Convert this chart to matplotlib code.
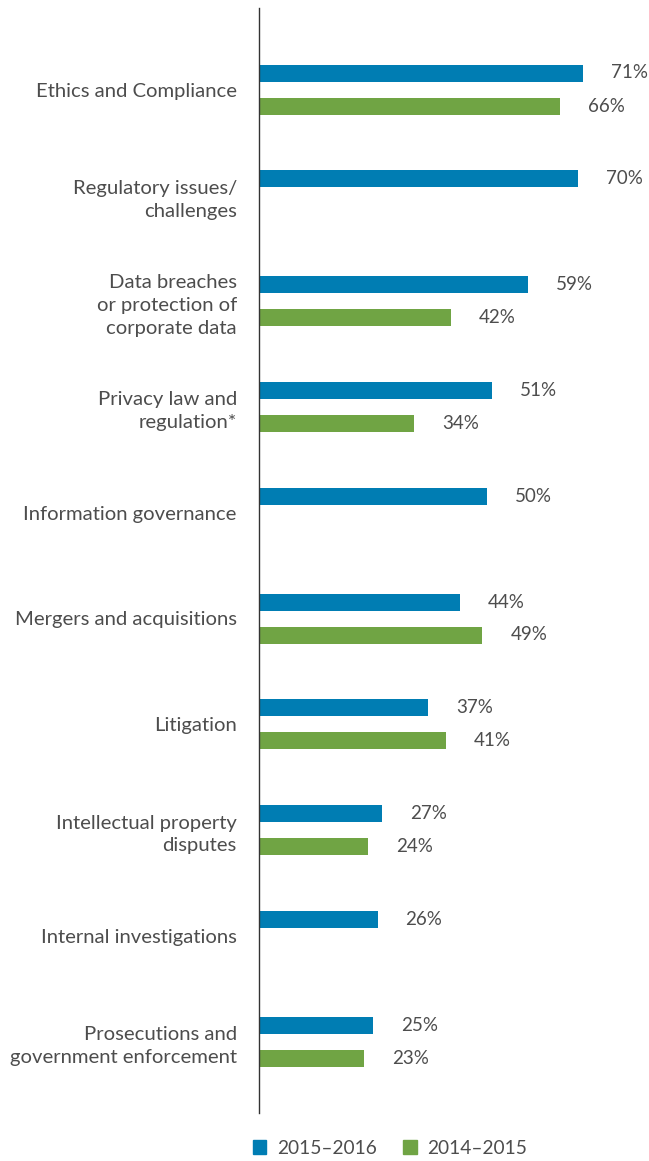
import numpy as np
import matplotlib
matplotlib.use("Agg")
import matplotlib.pyplot as plt
from matplotlib.patches import Patch

categories = ["Ethics and Compliance", "Regulatory issues/\nchallenges",
              "Data breaches\nor protection of\ncorporate data",
              "Privacy law and\nregulation*", "Information governance",
              "Mergers and acquisitions", "Litigation",
              "Intellectual property\ndisputes", "Internal investigations",
              "Prosecutions and\ngovernment enforcement"]
values_2015_2016 = [71, 70, 59, 51, 50, 44, 37, 27, 26, 25]
values_2014_2015 = [66, np.nan, 42, 34, np.nan, 49, 41, 24, np.nan, 23]
series_labels = ["2015\u20132016", "2014\u20132015"]

BLUE = "#007DB3"
GREEN = "#70A444"
TXT = "#4D4D4D"
plt.rcParams['font.family'] = ['Lato', 'DejaVu Sans']

W, H = 649, 1161
fig = plt.figure(figsize=(W/100, H/100), dpi=100)
ax_left = 259 / W
ax_top = 8 / H
ax_bot = 1113 / H
ax = fig.add_axes([ax_left, 1 - ax_bot, 1 - ax_left, ax_bot - ax_top])

px_per_unit = 4.56
xmax = (W - 259) / px_per_unit
spacing = 105.8
ytop = (8 - 89.5) / spacing
ybot = (1113 - 89.5) / spacing
ax.set_xlim(0, xmax)
ax.set_ylim(ybot, ytop)

y = np.arange(len(categories))
off = 16.5 / spacing
bh = 17 / spacing
ax.barh(y - off, values_2015_2016, height=bh, color=BLUE)
ax.barh(y + off, values_2014_2015, height=bh, color=GREEN)

lab_off = 28 / px_per_unit
for yi, v in zip(y, values_2015_2016):
    if not np.isnan(v):
        ax.text(v + lab_off, yi - off, f"{v:.0f}%", va="center", ha="left",
                fontsize=13.5, color=TXT)
for yi, v in zip(y, values_2014_2015):
    if not np.isnan(v):
        ax.text(v + lab_off, yi + off, f"{v:.0f}%", va="center", ha="left",
                fontsize=13.5, color=TXT)

ax.set_yticks(y)
ax.set_yticklabels(categories, fontsize=14.6, color=TXT, linespacing=1.42,
                   ha="right", multialignment="right")
ax.tick_params(axis="y", length=0, pad=16)
ax.set_xticks([])
for s in ["top", "right", "bottom"]:
    ax.spines[s].set_visible(False)
ax.spines["left"].set_color("#333333")
ax.spines["left"].set_linewidth(1.0)

handles = [Patch(color=BLUE), Patch(color=GREEN)]
fig.legend(handles, series_labels, loc="center", bbox_to_anchor=(390 / W, 1 - 1148 / H),
           ncol=2, frameon=False, fontsize=13.8, labelcolor=TXT,
           handlelength=0.7, handleheight=0.7, handletextpad=0.55, columnspacing=1.4)

fig.savefig("out.png", dpi=100)
